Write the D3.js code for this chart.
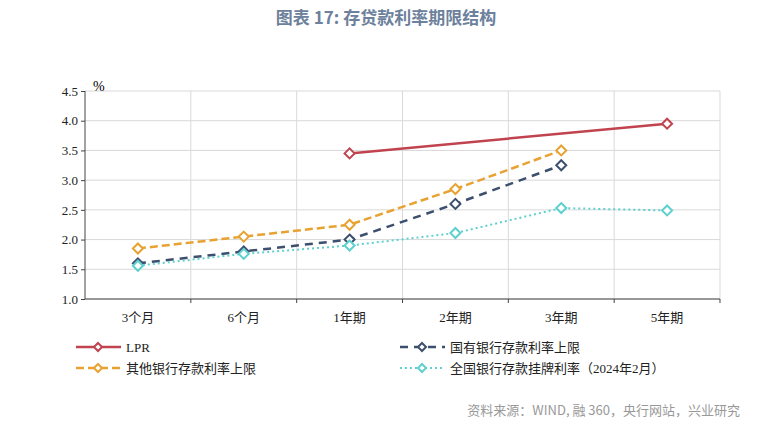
<!DOCTYPE html><html><head><meta charset="utf-8"><script src="https://cdn.jsdelivr.net/npm/d3@7"></script>
<style>body{margin:0;background:#fff}</style></head><body><svg id="c" width="772" height="429"></svg><script>
const categories=["3个月","6个月","1年期","2年期","3年期","5年期"];
const lpr=[null,null,3.45,null,null,3.95];
const stateBanks=[1.6,1.8,2.0,2.6,3.25,null];
const otherBanks=[1.85,2.05,2.25,2.85,3.5,null];
const listed=[1.56,1.76,1.9,2.11,2.53,2.49];
const yTicks=[1.0,1.5,2.0,2.5,3.0,3.5,4.0,4.5];
const svg=d3.select("#c");
const F="'Liberation Serif','Noto Sans CJK SC',serif";
const L=85,R=720,T=91,B=299;
const x=d3.scaleBand().domain(categories).range([L,R]);
const y=d3.scaleLinear().domain([1,4.5]).range([B,T]);
svg.append("text").attr("x",386).attr("y",24).attr("text-anchor","middle").attr("font-family","'Noto Sans CJK SC'").attr("font-weight","bold").attr("font-size",17).attr("fill","#6d819c").text("图表 17: 存贷款利率期限结构");
const g=svg.append("g");
yTicks.forEach(t=>g.append("line").attr("x1",L).attr("x2",R).attr("y1",y(t)).attr("y2",y(t)).attr("stroke","#d9d9d9"));
categories.forEach((c,i)=>g.append("line").attr("x1",x(c)+x.bandwidth()).attr("x2",x(c)+x.bandwidth()).attr("y1",T).attr("y2",B).attr("stroke","#d9d9d9"));
const ya=svg.append("g").attr("transform",`translate(${L},0)`).call(d3.axisLeft(y).tickValues(yTicks).tickFormat(d3.format(".1f")).tickSize(4));
const xa=svg.append("g").attr("transform",`translate(0,${B})`).call(d3.axisBottom(x).tickSize(0).tickPadding(14));
xa.selectAll(".tick").append("line").attr("x1",x.bandwidth()/2).attr("x2",x.bandwidth()/2).attr("y2",4).attr("stroke","#444");
svg.selectAll(".domain").attr("stroke","#444");svg.selectAll(".tick line").attr("stroke","#444");
svg.selectAll(".tick text").attr("font-family",F).attr("font-size",13).attr("fill","#222");
xa.select(".domain").attr("d",`M${L},0H${R}`);
ya.select(".domain").attr("d",`M0,${T}V${B}`);
svg.append("text").attr("x",93).attr("y",91).attr("font-family",F).attr("font-size",14).text("%");
const series=[
 {name:"LPR",data:lpr,color:"#c0434f",dash:null,w:2.5},
 {name:"国有银行存款利率上限",data:stateBanks,color:"#3d4f6e",dash:"8,6",w:2.5},
 {name:"其他银行存款利率上限",data:otherBanks,color:"#e8a232",dash:"8,4",w:2.5},
 {name:"全国银行存款挂牌利率（2024年2月）",data:listed,color:"#5fd0cf",dash:"2,3",w:2}];
const cx=c=>x(c)+x.bandwidth()/2;
series.forEach(s=>{
 const pts=categories.map((c,i)=>[c,s.data[i]]).filter(d=>d[1]!=null);
 svg.append("path").attr("d",d3.line().x(d=>cx(d[0])).y(d=>y(d[1]))(pts)).attr("fill","none").attr("stroke",s.color).attr("stroke-width",s.w).attr("stroke-dasharray",s.dash);
 pts.forEach(d=>svg.append("path").attr("d","M0,-5L5,0L0,5L-5,0Z").attr("transform",`translate(${cx(d[0])},${y(d[1])})`).attr("fill","#fff").attr("stroke",s.color).attr("stroke-width",2));
});
const leg=[[76,347],[400,347],[76,368],[400,368]];
series.forEach((s,i)=>{const [lx,ly]=leg[i];
 svg.append("line").attr("x1",lx).attr("x2",lx+45).attr("y1",ly).attr("y2",ly).attr("stroke",s.color).attr("stroke-width",s.w).attr("stroke-dasharray",s.dash);
 svg.append("path").attr("d","M0,-4L4,0L0,4L-4,0Z").attr("transform",`translate(${lx+22},${ly})`).attr("fill","#fff").attr("stroke",s.color).attr("stroke-width",2);
 svg.append("text").attr("x",lx+50).attr("y",ly+5).attr("font-family",F).attr("font-size",13).attr("fill","#222").text(s.name);});
svg.append("text").attr("x",740).attr("y",415).attr("text-anchor","end").attr("font-family","'Noto Sans CJK SC'").attr("font-size",13).attr("fill","#999").text("资料来源：WIND, 融 360，央行网站，兴业研究");
</script></body></html>
